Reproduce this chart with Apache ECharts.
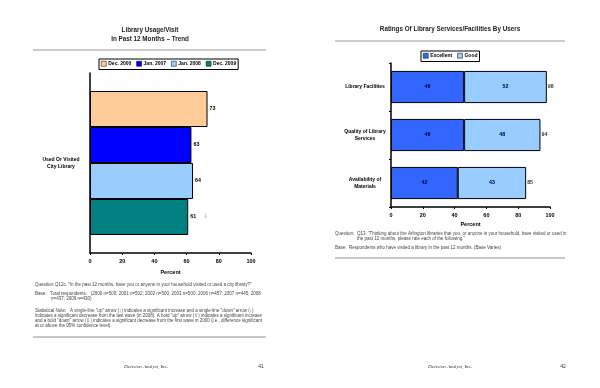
<!DOCTYPE html>
<html><head><meta charset="utf-8">
<script src="https://cdn.jsdelivr.net/npm/echarts@6/dist/echarts.min.js"></script>
<style>html,body{margin:0;padding:0;background:#fff}#c{width:600px;height:388px}</style>
</head><body><div id="c"></div>
<script>
// ---- data ----
const usageCategories = ['Used Or Visited\nCity Library'];
const waveNames = ['Dec. 2000', 'Jan. 2007', 'Jan. 2008', 'Dec. 2009'];
const usageValues = [73, 63, 64, 61];
const ratingCategories = ['Library Facilities', 'Quality of Library\nServices', 'Availability of\nMaterials'];
const ratingNames = ['Excellent', 'Good'];
const excellentValues = [46, 46, 42];
const goodValues = [52, 48, 43];
const totalValues = [98, 94, 85];

const FONT = 'Liberation Sans, Arial, sans-serif';
const waveColors = ['#FFCC99', '#0000FF', '#99CCFF', '#008080'];
const ratingColors = ['#3366FF', '#99CCFF'];

const chart = echarts.init(document.getElementById('c'), null, {renderer: 'canvas'});

function xAx(gi, nameGap) {
  return {
    gridIndex: gi, type: 'value', min: 0, max: 100, interval: 20,
    name: 'Percent', nameLocation: 'middle', nameGap: nameGap,
    nameTextStyle: {fontFamily: FONT, fontSize: 5.5, fontWeight: 'bold', color: '#000'},
    axisLine: {show: true, lineStyle: {color: '#000', width: 1.5}},
    axisTick: {show: true, length: 2, lineStyle: {color: '#000', width: 1}},
    axisLabel: {fontFamily: FONT, fontSize: 5.5, fontWeight: 'bold', color: '#000', margin: 5},
    splitLine: {show: false}
  };
}

const leftSeries = waveNames.map((n, i) => ({
  type: 'bar', name: n, xAxisIndex: 0, yAxisIndex: 0,
  data: [usageValues[i]],
  barGap: '0%', barCategoryGap: '20%',
  itemStyle: {color: waveColors[i], borderColor: '#000', borderWidth: 1},
  label: {
    show: true, position: 'right', distance: 2,
    fontFamily: FONT, fontSize: 5.3, fontWeight: 'bold', color: '#000',
    formatter: i === 3 ? '{c}{g|⇩}' : '{c}',
    rich: {g: {color: '#b0b0b0', fontSize: 6, padding: [0, 0, 2, 7], fontFamily: 'DejaVu Sans'}}
  }
}));

const rightSeries = [
  {type: 'bar', name: ratingNames[0], stack: 'r', xAxisIndex: 1, yAxisIndex: 1, data: excellentValues,
   barCategoryGap: '33%',
   itemStyle: {color: ratingColors[0], borderColor: '#000', borderWidth: 1},
   label: {show: true, position: 'inside', fontFamily: FONT, fontSize: 5.3, fontWeight: 'bold', color: '#000033'}},
  {type: 'bar', name: ratingNames[1], stack: 'r', xAxisIndex: 1, yAxisIndex: 1, data: goodValues,
   barCategoryGap: '33%',
   itemStyle: {color: ratingColors[1], borderColor: '#000', borderWidth: 1},
   label: {show: true, position: 'inside', fontFamily: FONT, fontSize: 5.3, fontWeight: 'bold', color: '#000033'}},
  {type: 'scatter', name: 'Total', xAxisIndex: 1, yAxisIndex: 1, symbolSize: 0,
   data: totalValues.map((v, i) => [v, ratingCategories[i]]),
   label: {show: true, position: 'right', distance: 1, fontFamily: FONT, fontSize: 5.3, fontWeight: 'bold', color: '#000',
     formatter: p => p.value[0]}}
];

const legendCommon = {
  orient: 'horizontal', icon: 'rect', itemWidth: 5, itemHeight: 5, itemGap: 5,
  borderColor: '#000', borderWidth: 1, padding: [2, 2, 3, 2],
  itemStyle: {borderColor: '#000', borderWidth: 0.5},
  textStyle: {fontFamily: FONT, fontSize: 5, fontWeight: 'bold', color: '#000', padding: [0, 0, 0, -3]},
  selectedMode: false
};

function txt(x, y, text, opt) {
  opt = opt || {};
  return {type: 'text', silent: true, style: Object.assign({
    x: x, y: y, text: text, fontFamily: FONT, fontSize: 4.5, fill: '#444',
    textAlign: 'left', textVerticalAlign: 'middle'}, opt)};
}
function rule(x1, x2, y, c) {
  return {type: 'line', silent: true, shape: {x1: x1, y1: y, x2: x2, y2: y},
    style: {stroke: c || '#bdbdbd', lineWidth: 1.5}};
}

const option = {
  backgroundColor: '#fff',
  animation: false,
  title: [
    {text: 'Library Usage/Visit\nIn Past 12 Months – Trend', left: 150, top: 25.5, textAlign: 'center', padding: 0,
     textStyle: {fontFamily: FONT, fontSize: 6.3, fontWeight: 'bold', color: '#222', lineHeight: 9}},
    {text: 'Ratings Of Library Services/Facilities By Users', left: 450, top: 24.5, textAlign: 'center', padding: 0,
     textStyle: {fontFamily: FONT, fontSize: 6.3, fontWeight: 'bold', color: '#222', lineHeight: 9}}
  ],
  legend: [
    Object.assign({}, legendCommon, {left: 99, top: 59, data: waveNames}),
    Object.assign({}, legendCommon, {left: 421, top: 51, data: ratingNames})
  ],
  grid: [
    {left: 90, top: 73, width: 161, height: 180},
    {left: 391, top: 63, width: 159, height: 144}
  ],
  xAxis: [xAx(0, 16), xAx(1, 14)],
  yAxis: [
    {gridIndex: 0, type: 'category', data: usageCategories, inverse: true,
     axisLine: {show: true, lineStyle: {color: '#000', width: 1.5}},
     axisTick: {show: false},
     axisLabel: {fontFamily: FONT, fontSize: 5, fontWeight: 'bold', color: '#000', align: 'center', margin: 29, lineHeight: 7}},
    {gridIndex: 1, type: 'category', data: ratingCategories, inverse: true,
     axisLine: {show: true, lineStyle: {color: '#000', width: 1.5}},
     axisTick: {show: true, length: 2, lineStyle: {color: '#000'}},
     axisLabel: {fontFamily: FONT, fontSize: 5, fontWeight: 'bold', color: '#000', align: 'center', margin: 26, lineHeight: 7}}
  ],
  series: leftSeries.concat(rightSeries),
  graphic: [
    rule(33, 266, 50), rule(335, 565, 41),
    rule(33, 266, 337, '#b5b5b5'), rule(335, 565, 258, '#b5b5b5'),
    // left notes
    txt(35, 285, 'Question:'),
    txt(55, 285, 'Q12c. "In the past 12 months, have you or anyone in your household visited or used a city library?"'),
    txt(35, 294, 'Base:   Total respondents.   (2000 n=500; 2001 n=502; 2002 n=500; 2003 n=500; 2006 n=457; 2007 n=445; 2008'),
    txt(51, 299, 'n=437; 2009 n=430)'),
    txt(35, 311, 'Statistical Note:   A single-line "up" arrow (↑) indicates a significant increase and a single-line "down" arrow (↓)'),
    txt(35, 316, 'indicates a significant decrease from the last wave (in 2008). A bold "up" arrow (⇧) indicates a significant increase'),
    txt(35, 321, 'and a bold "down" arrow (⇩) indicates a significant decrease from the first wave in 2000 (i.e., difference significant'),
    txt(35, 326, 'at or above the 95% confidence level).'),
    // right notes
    txt(335, 234, 'Question:'),
    txt(357, 234, 'Q13. "Thinking about the Arlington libraries that you, or anyone in your household, have visited or used in'),
    txt(357, 239, 'the past 12 months, please rate each of the following."'),
    txt(335, 248, 'Base:  Respondents who have visited a library in the past 12 months. (Base Varies)'),
    // footers
    txt(146, 367, 'Decision Analyst, Inc.', {fontFamily: 'Liberation Serif, serif', fontStyle: 'italic', fontSize: 5, textAlign: 'center', fill: '#333'}),
    txt(261, 367, '41', {fontSize: 5, textAlign: 'center', fill: '#333'}),
    txt(450, 367, 'Decision Analyst, Inc.', {fontFamily: 'Liberation Serif, serif', fontStyle: 'italic', fontSize: 5, textAlign: 'center', fill: '#333'}),
    txt(563, 367, '42', {fontSize: 5, textAlign: 'center', fill: '#333'})
  ]
};
chart.setOption(option);
</script></body></html>
